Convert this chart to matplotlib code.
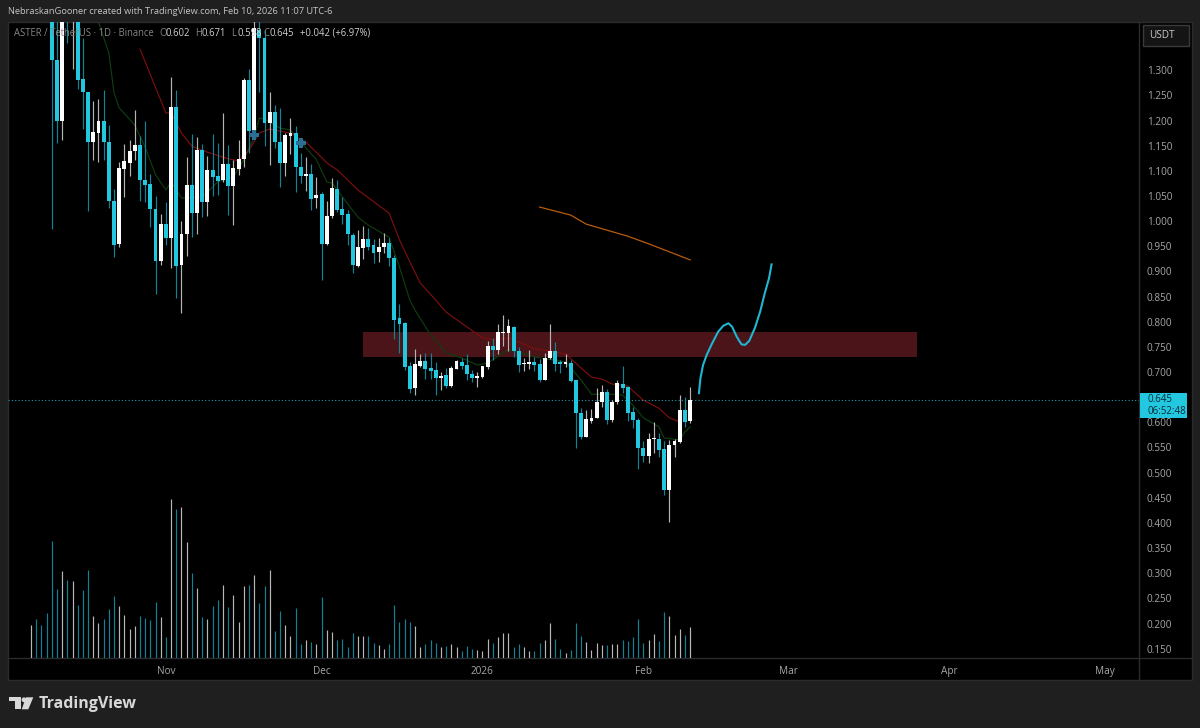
"""ASTER / TetherUS daily candles with hand-drawn projection."""

import matplotlib

matplotlib.use("Agg")
import matplotlib.pyplot as plt
from matplotlib.patches import Circle, Polygon, Rectangle

plt.rcParams["font.family"] = ["Open Sans", "DejaVu Sans"]

# one entry per day, first bar is 6 Oct 2025
opens = [
    1.85, 1.95, 1.85, 1.75, 1.70, 1.320, 1.199, 1.55, 1.42, 1.50,
    1.283, 1.257, 1.157, 1.175, 1.199, 1.157, 1.040, 0.955, 1.104, 1.116,
    1.139, 1.151, 1.082, 1.074, 1.024, 0.921, 0.994, 0.966, 1.227, 0.913,
    0.974, 1.072, 1.016, 1.141, 1.038, 1.102, 1.090, 1.082, 1.114, 1.070,
    1.104, 1.124, 1.281, 1.179, 1.380, 1.364, 1.195, 1.217, 1.157, 1.116,
    1.169, 1.175, 1.108, 1.090, 1.094, 1.046, 1.054, 0.955, 1.010, 1.064,
    1.024, 1.014, 0.972, 0.911, 0.947, 0.964, 0.953, 0.939, 0.949, 0.957,
    0.927, 0.807, 0.797, 0.712, 0.668, 0.712, 0.722, 0.708, 0.704, 0.688,
    0.694, 0.672, 0.706, 0.720, 0.714, 0.696, 0.688, 0.690, 0.710, 0.752,
    0.744, 0.778, 0.778, 0.790, 0.742, 0.716, 0.716, 0.720, 0.716, 0.684,
    0.728, 0.742, 0.720, 0.716, 0.718, 0.684, 0.619, 0.571, 0.603, 0.609,
    0.640, 0.660, 0.605, 0.641, 0.676, 0.670, 0.621, 0.605, 0.549, 0.533,
    0.567, 0.567, 0.547, 0.465, 0.555, 0.561, 0.625, 0.602,
]
highs = [
    2.00, 2.05, 1.95, 1.90, 1.72, 1.42, 1.55, 1.62, 1.58, 1.55,
    1.364, 1.257, 1.239, 1.243, 1.261, 1.191, 1.064, 1.118, 1.153, 1.161,
    1.221, 1.169, 1.199, 1.094, 1.050, 1.014, 1.038, 1.287, 1.261, 1.000,
    1.127, 1.173, 1.167, 1.153, 1.129, 1.173, 1.155, 1.215, 1.151, 1.122,
    1.161, 1.285, 1.302, 1.45, 1.42, 1.38, 1.257, 1.231, 1.225, 1.175,
    1.205, 1.189, 1.135, 1.127, 1.114, 1.088, 1.058, 1.040, 1.086, 1.082,
    1.048, 1.022, 0.976, 0.982, 0.990, 0.986, 0.964, 0.966, 0.976, 0.966,
    0.933, 0.835, 0.799, 0.720, 0.746, 0.736, 0.738, 0.738, 0.720, 0.700,
    0.708, 0.712, 0.724, 0.728, 0.736, 0.704, 0.700, 0.712, 0.762, 0.768,
    0.795, 0.813, 0.805, 0.792, 0.750, 0.728, 0.744, 0.730, 0.726, 0.738,
    0.796, 0.760, 0.724, 0.736, 0.724, 0.684, 0.629, 0.625, 0.627, 0.668,
    0.674, 0.666, 0.645, 0.684, 0.712, 0.672, 0.631, 0.609, 0.563, 0.579,
    0.601, 0.579, 0.563, 0.565, 0.567, 0.655, 0.651, 0.671,
]
lows = [
    1.75, 1.78, 1.70, 1.62, 0.984, 1.155, 1.161, 1.354, 1.302, 1.263,
    1.183, 1.020, 1.122, 1.118, 1.122, 1.026, 0.929, 0.949, 1.048, 1.090,
    1.122, 1.040, 1.038, 0.988, 0.855, 0.913, 0.953, 0.907, 0.847, 0.817,
    0.931, 0.968, 0.974, 1.008, 1.010, 1.050, 1.052, 1.078, 1.012, 0.992,
    1.092, 1.108, 1.135, 1.171, 1.257, 1.149, 1.112, 1.145, 1.068, 1.090,
    1.133, 1.058, 1.076, 1.060, 1.022, 1.026, 0.883, 0.953, 1.006, 1.018,
    0.994, 0.953, 0.897, 0.909, 0.925, 0.943, 0.917, 0.919, 0.937, 0.911,
    0.766, 0.738, 0.704, 0.658, 0.654, 0.710, 0.686, 0.686, 0.654, 0.664,
    0.668, 0.670, 0.706, 0.706, 0.684, 0.680, 0.670, 0.688, 0.706, 0.724,
    0.736, 0.752, 0.742, 0.730, 0.700, 0.702, 0.706, 0.702, 0.680, 0.684,
    0.726, 0.702, 0.698, 0.710, 0.680, 0.549, 0.567, 0.571, 0.599, 0.609,
    0.631, 0.597, 0.601, 0.637, 0.658, 0.603, 0.589, 0.507, 0.521, 0.519,
    0.539, 0.531, 0.456, 0.402, 0.531, 0.559, 0.591, 0.598,
]
closes = [
    1.95, 1.85, 1.75, 1.70, 1.320, 1.199, 1.50, 1.42, 1.50, 1.281,
    1.257, 1.157, 1.177, 1.199, 1.157, 1.040, 0.953, 1.106, 1.120, 1.139,
    1.151, 1.082, 1.072, 1.024, 0.921, 0.994, 0.966, 1.227, 0.911, 0.974,
    1.072, 1.016, 1.141, 1.038, 1.102, 1.088, 1.080, 1.114, 1.070, 1.106,
    1.124, 1.281, 1.179, 1.384, 1.364, 1.195, 1.217, 1.157, 1.116, 1.171,
    1.175, 1.108, 1.090, 1.094, 1.044, 1.052, 0.955, 1.010, 1.066, 1.022,
    1.012, 0.974, 0.913, 0.949, 0.964, 0.949, 0.937, 0.949, 0.957, 0.927,
    0.803, 0.795, 0.710, 0.666, 0.716, 0.722, 0.706, 0.702, 0.688, 0.692,
    0.672, 0.708, 0.722, 0.712, 0.696, 0.688, 0.692, 0.712, 0.752, 0.744,
    0.780, 0.780, 0.792, 0.742, 0.714, 0.718, 0.720, 0.714, 0.684, 0.728,
    0.742, 0.716, 0.716, 0.720, 0.682, 0.619, 0.571, 0.607, 0.609, 0.641,
    0.660, 0.605, 0.641, 0.678, 0.668, 0.619, 0.605, 0.549, 0.533, 0.567,
    0.569, 0.545, 0.465, 0.555, 0.563, 0.625, 0.601, 0.645,
]
volumes = [
    33, 39, 33, 45, 117, 69, 87, 78, 77, 53, 68, 88, 42, 35, 39, 49, 62, 52,
    43, 29, 32, 42, 40, 38, 56, 41, 21, 159, 149, 151, 116, 85, 70, 41, 39,
    52, 58, 73, 51, 63, 36, 72, 73, 83, 55, 72, 88, 27, 47, 33, 22, 50, 14,
    18, 16, 14, 61, 28, 26, 18, 19, 11, 25, 22, 22, 22, 15, 13, 9, 14, 53,
    36, 39, 36, 32, 11, 14, 18, 15, 11, 12, 14, 11, 7, 12, 9, 8, 7, 19, 15,
    21, 25, 25, 11, 14, 11, 7, 7, 15, 18, 35, 19, 9, 5, 8, 35, 22, 16, 8,
    15, 13, 13, 14, 14, 18, 17, 21, 39, 15, 18, 24, 17, 46, 42, 23, 29, 23,
    31,
]

ema_slow_days = [
    21, 26, 27, 29, 31, 34, 38, 40, 42, 44, 46, 50, 53, 57, 59, 63, 69, 71,
    73, 75, 78, 80, 83, 87, 89, 92, 94, 97, 100, 103, 106, 108, 110, 112,
    115, 118, 121, 123, 125,
]
ema_slow = [
    1.342, 1.215, 1.215, 1.175, 1.149, 1.137, 1.124, 1.120, 1.141, 1.175,
    1.183, 1.175, 1.157, 1.116, 1.102, 1.062, 1.016, 0.963, 0.919, 0.877,
    0.843, 0.819, 0.797, 0.768, 0.764, 0.768, 0.760, 0.746, 0.742, 0.736,
    0.708, 0.690, 0.686, 0.676, 0.672, 0.644, 0.628, 0.609, 0.601,
]
ema_fast_days = [
    13, 15, 16, 17, 20, 22, 24, 26, 27, 29, 33, 36, 39, 41, 43, 44, 45, 48,
    50, 52, 55, 57, 58, 60, 63, 65, 69, 71, 73, 74, 77, 80, 83, 86, 88, 92,
    94, 97, 103, 106, 108, 112, 114, 116, 118, 121, 122, 125, 126, 127,
]
ema_fast = [
    1.396, 1.334, 1.255, 1.225, 1.191, 1.147, 1.092, 1.062, 1.078, 1.046,
    1.048, 1.078, 1.088, 1.122, 1.167, 1.205, 1.203, 1.185, 1.181, 1.157,
    1.122, 1.078, 1.076, 1.048, 1.008, 0.992, 0.968, 0.909, 0.843, 0.823,
    0.774, 0.738, 0.728, 0.714, 0.718, 0.744, 0.740, 0.730, 0.720, 0.684,
    0.656, 0.656, 0.654, 0.634, 0.609, 0.591, 0.569, 0.565, 0.581, 0.591,
]
ma_long_days = [98, 101, 104, 107, 111, 115, 119, 123, 127]
ma_long = [1.028, 1.020, 1.012, 0.994, 0.982, 0.970, 0.955, 0.939, 0.923]

path_days = [
    128.7, 129.0, 129.5, 130.2, 131.2, 132.4, 133.4, 134.4, 135.1, 136.0,
    136.9, 137.6, 138.4, 139.5, 140.5, 141.4, 142.2, 142.7,
]
path_prices = [
    0.658, 0.688, 0.714, 0.734, 0.756, 0.780, 0.792, 0.797, 0.790, 0.770,
    0.755, 0.754, 0.762, 0.788, 0.820, 0.857, 0.886, 0.914,
]
marker_days = [43, 52]
marker_prices = [1.171, 1.155]

zone_days = (64, 170.7)
zone_prices = (0.73, 0.78)

# 0.650 sits under the last-price label in the reference
price_ticks = [
    0.15, 0.20, 0.25, 0.30, 0.35, 0.40, 0.45, 0.50, 0.55, 0.60, 0.70, 0.75,
    0.80, 0.85, 0.90, 0.95, 1.00, 1.05, 1.10, 1.15, 1.20, 1.25, 1.30,
]
date_ticks = [26, 56, 87, 118, 146, 177, 207]
date_labels = ["Nov", "Dec", "2026", "Feb", "Mar", "Apr", "May"]

UP = "#ffffff"
DOWN = "#22c7e0"
UP_WICK = "#b4b4b4"
DOWN_WICK = "#128397"
UP_VOL = "#b8b8b8"
DOWN_VOL = "#0f8296"
LABEL = "#a6a6a6"
FRAME = "#2b2b2b"
BG = "#1f1f1f"

W, H = 1200, 728
fig = plt.figure(figsize=(W / 100, H / 100), dpi=100, facecolor=BG)

# page furniture in pixel coordinates
page = fig.add_axes([0, 0, 1, 1], zorder=0)
page.set_xlim(0, W)
page.set_ylim(H, 0)
page.axis("off")
page.add_patch(Rectangle((8, 22), 1184, 658, fc="black", ec=FRAME, lw=1))
page.plot([1139, 1139], [22, 680], color=FRAME, lw=1)
page.plot([8, 1192], [658, 658], color=FRAME, lw=1)

box = [8 / W, 1 - 658 / H, (1139 - 8) / W, (658 - 22) / H]
xlim = (-4.43, 213.5)

vol = fig.add_axes(box, zorder=1)
vol.set_xlim(xlim)
vol.set_ylim(0, 636)
vol.axis("off")

ax = fig.add_axes(box, zorder=2)
ax.patch.set_alpha(0)
ax.set_xlim(xlim)
ax.set_ylim(0.1315, 1.3959)
for side in ax.spines.values():
    side.set_visible(False)

days = list(range(len(closes)))
is_up = [c >= o for o, c in zip(opens, closes)]

vol.vlines(days, 0, volumes, colors=[UP_VOL if u else DOWN_VOL for u in is_up], lw=0.85)

ax.add_patch(Rectangle(
    (zone_days[0], zone_prices[0]),
    zone_days[1] - zone_days[0],
    zone_prices[1] - zone_prices[0],
    fc="#4a1418", ec="none", zorder=1,
))

ax.plot(ema_fast_days, ema_fast, color="#0f3d0f", lw=0.85, zorder=2)
ax.plot(ema_slow_days, ema_slow, color="#7d0f0f", lw=0.85, zorder=2)

ax.vlines(days, lows, highs, colors=[UP_WICK if u else DOWN_WICK for u in is_up], lw=0.85, zorder=3)
for day, o, c, up in zip(days, opens, closes, is_up):
    bottom, height = min(o, c), max(abs(c - o), 0.002)
    ax.bar(day, height, bottom=bottom, width=0.75, color=UP if up else DOWN, lw=0, zorder=4)

ax.plot(ma_long_days, ma_long, color="#b85c0c", lw=0.9, zorder=3)
ax.plot(path_days, path_prices, color="#1fb6d2", lw=1.5, solid_joinstyle="round", zorder=5)
ax.plot(marker_days, marker_prices, ls="", marker="P", ms=6.5, color="#2a6f95", mew=0, zorder=5)
ax.axhline(closes[-1], color="#1c9db3", lw=0.8, ls=(0, (1, 2)), zorder=2)

ax.yaxis.tick_right()
ax.set_yticks(price_ticks)
ax.set_yticklabels([f"{p:.3f}" for p in price_ticks], color=LABEL, fontsize=7.2)
ax.set_xticks(date_ticks)
ax.set_xticklabels(date_labels, color=LABEL, fontsize=7.2)
ax.tick_params(axis="both", length=0)
ax.tick_params(axis="y", pad=5.5)
ax.tick_params(axis="x", pad=6)

# overlays: header, legend, price labels, logo
over = fig.add_axes([0, 0, 1, 1], zorder=3)
over.patch.set_alpha(0)
over.set_xlim(0, W)
over.set_ylim(H, 0)
over.axis("off")

over.text(8, 12, "NebraskanGooner created with TradingView.com, Feb 10, 2026 11:07 UTC-6",
          color="#c4c4c4", fontsize=6.65, va="center")
over.text(14, 33, "ASTER / TetherUS · 1D · Binance", color="#858585", fontsize=6.85, va="center")
for x, label, value in [(159, "O", "0.602"), (195, "H", "0.671"), (231, "L", "0.598"), (263, "C", "0.645")]:
    over.text(x, 33, label, color="#858585", fontsize=6.85, va="center")
    over.text(x + 7, 33, value, color="#d0d0d0", fontsize=6.85, va="center")
over.text(300, 33, "+0.042 (+6.97%)", color="#d0d0d0", fontsize=6.85, va="center")

over.add_patch(Rectangle((1142.5, 24.5), 46.5, 21, fc="#141414", ec="#3a3a3a", lw=1))
over.text(1149, 35, "USDT", color="#c8c8c8", fontsize=7.2, va="center")

over.add_patch(Rectangle((1140, 393), 47, 25, fc=DOWN, ec="none"))
over.text(1147, 400, "0.645", color="#0d2a33", fontsize=7, va="center")
over.text(1147, 411.5, "06:52:48", color="#0d2a33", fontsize=7, va="center")

logo = "#d8d8d8"
over.add_patch(Polygon([(9.3, 697.3), (20.7, 697.3), (20.7, 709.3), (14.7, 709.3), (14.7, 701.3), (9.3, 701.3)], fc=logo, ec="none"))
over.add_patch(Circle((24, 699.8), 2.4, fc=logo, ec="none"))
over.add_patch(Polygon([(26, 697.3), (33.3, 697.3), (28.3, 709.3), (21.7, 709.3)], fc=logo, ec="none"))
over.text(39, 703.5, "TradingView", color=logo, fontsize=11.5, fontweight="bold", va="center")

fig.savefig("out.png", dpi=100, facecolor=BG)
